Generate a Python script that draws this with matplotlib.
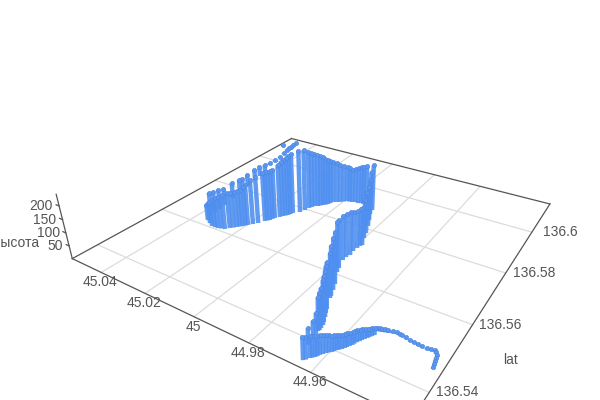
import numpy as np
import matplotlib
matplotlib.use('Agg')
import matplotlib.pyplot as plt
from mpl_toolkits.mplot3d import proj3d

plt.rcParams['font.family'] = ['Liberation Sans', 'DejaVu Sans']

# track points
lat = [136.5452, 136.5468, 136.5483, 136.5493, 136.5490, 136.5491, 136.5493, 136.5497, 136.5499, 136.5493, 136.5489, 136.5486,
       136.5469, 136.5460, 136.5450, 136.5440, 136.5429, 136.5419, 136.5410, 136.5403, 136.5394, 136.5386, 136.5376, 136.5367, 136.5360, 136.5349,
       136.5386, 136.5406, 136.5418, 136.5427, 136.5437, 136.5446, 136.5468, 136.5490, 136.5523, 136.5549, 136.5607, 136.5653, 136.5679, 136.5713, 136.5730, 136.5759, 136.5781, 136.5813, 136.5839, 136.5867, 136.5888,
       136.5898, 136.5904, 136.5901, 136.5898, 136.5895, 136.5881, 136.5871, 136.5854, 136.5843, 136.5831, 136.5827, 136.5810, 136.5795, 136.5780, 136.5766, 136.5751, 136.5740, 136.5732, 136.5721, 136.5706, 136.5696, 136.5679, 136.5668, 136.5658, 136.5647, 136.5636, 136.5623, 136.5613, 136.5607, 136.5607, 136.5623,
       136.5650, 136.5663, 136.5682, 136.5705, 136.5746, 136.5778, 136.5796, 136.5822, 136.5862, 136.5890, 136.5924, 136.5965, 136.5990, 136.6022, 136.6053, 136.6077, 136.6103, 136.6138, 136.6102,
       136.5460, 136.5475, 136.5489, 136.5492, 136.5490, 136.5492, 136.5495, 136.5498, 136.5496, 136.5491, 136.5488,
       136.5474, 136.5464, 136.5455, 136.5445, 136.5434, 136.5424, 136.5415, 136.5406, 136.5398, 136.5390, 136.5381, 136.5371, 136.5363, 136.5353,
       136.5530, 136.5568, 136.5622, 136.5667, 136.5697, 136.5724, 136.5454, 136.5479, 136.5431,
       136.5906, 136.5902, 136.5896, 136.5888, 136.5876, 136.5862, 136.5848, 136.5837, 136.5818,
       136.5653, 136.5642, 136.5629, 136.5610, 136.5607, 136.5615, 136.5745, 136.5758, 136.5714, 136.5701,
       136.6090, 136.6120]
lon = [44.9346, 44.9351, 44.9355, 44.9367, 44.9388, 44.9414, 44.9439, 44.9465, 44.9482, 44.9505, 44.9521, 44.9534,
       44.9536, 44.9543, 44.9551, 44.9558, 44.9563, 44.9571, 44.9578, 44.9587, 44.9594, 44.9605, 44.9615, 44.9621, 44.9630, 44.9641,
       44.9662, 44.9666, 44.9668, 44.9670, 44.9670, 44.9672, 44.9686, 44.9701, 44.9721, 44.9734, 44.9773, 44.9793, 44.9788, 44.9790, 44.9785, 44.9802, 44.9812, 44.9830, 44.9847, 44.9866, 44.9874,
       44.9909, 44.9926, 44.9946, 44.9970, 44.9990, 45.0009, 45.0032, 45.0039, 45.0051, 45.0063, 45.0073, 45.0083, 45.0087, 45.0094, 45.0112, 45.0118, 45.0130, 45.0135, 45.0146, 45.0152, 45.0163, 45.0175, 45.0186, 45.0197, 45.0208, 45.0221, 45.0238, 45.0248, 45.0274, 45.0301, 45.0343,
       45.0364, 45.0362, 45.0362, 45.0367, 45.0379, 45.0383, 45.0390, 45.0396, 45.0406, 45.0413, 45.0425, 45.0445, 45.0445, 45.0453, 45.0464, 45.0473, 45.0478, 45.0486, 45.0523,
       44.9348, 44.9353, 44.9362, 44.9377, 44.9402, 44.9426, 44.9452, 44.9474, 44.9494, 44.9513, 44.9527,
       44.9532, 44.9540, 44.9547, 44.9554, 44.9561, 44.9567, 44.9574, 44.9583, 44.9591, 44.9600, 44.9610, 44.9618, 44.9626, 44.9636,
       44.9724, 44.9745, 44.9780, 44.9793, 44.9792, 44.9788, 44.9677, 44.9694, 44.9669,
       44.9937, 44.9960, 44.9980, 45.0000, 45.0020, 45.0036, 45.0045, 45.0057, 45.0078,
       45.0202, 45.0214, 45.0229, 45.0261, 45.0287, 45.0322, 45.0124, 45.0115, 45.0149, 45.0158,
       45.0475, 45.0482]
height = [7, 7, 7, 7, 7, 7, 7, 7, 7, 11, 11, 11,
          28, 32, 39, 42, 45, 49, 49, 52, 55, 62, 69, 72, 75, 78,
          59, 60, 74, 118, 139, 156, 161, 166, 162, 188, 186, 168, 166, 145, 146, 152, 161, 160, 166, 176, 189,
          171, 159, 151, 139, 147, 160, 172, 188, 204, 215, 219, 234, 249, 252, 244, 235, 223, 214, 198, 197, 197, 188, 180, 164, 148, 143, 143, 139, 123, 100, 64,
          90, 86, 82, 70, 67, 59, 50, 50, 47, 42, 29, 10, 10, 5, 5, 5, 5, 5, 5,
          7, 7, 7, 7, 7, 7, 7, 7, 9, 11, 11,
          25, 30, 35, 40, 44, 47, 49, 50, 54, 59, 65, 70, 73, 78,
          179, 190, 180, 165, 152, 146, 160, 165, 128,
          155, 143, 145, 154, 168, 180, 196, 210, 227,
          158, 146, 143, 131, 111, 82, 229, 239, 198, 197,
          5, 5]

lat_ticks = [136.54, 136.56, 136.58, 136.6]
lon_ticks = [45.04, 45.02, 45, 44.98, 44.96]
z_ticks = [50, 100, 150, 200]

x_lim = (136.533188, 136.616760)
y_lim = (44.932235, 45.054359)
z_lim = (0, 241.746547)

# camera fitted to the frame of the reference
k, cx, cy = 2646.544, 329.942, 199.673

fig = plt.figure(figsize=(6, 4), dpi=100)
ax = fig.add_axes([0, 0, 1, 1], projection='3d')
x0, y0, x1, y1 = ax.viewLim.extents
ax.set_position([(cx + k * x0) / 600, (400 - (cy - k * y0)) / 400, k * (x1 - x0) / 600, k * (y1 - y0) / 400])
ax.set_axis_off()
ax.view_init(28.282316, -147.434849)
ax.set_proj_type('persp', focal_length=0.22112)
ax.set_box_aspect((1, 0.999416, 0.194683))
ax.set_xlim3d(*x_lim, view_margin=0)
ax.set_ylim3d(*y_lim, view_margin=0)
ax.set_zlim3d(*z_lim, view_margin=0)
M = ax.get_proj()

grid = dict(color='#dcdcdc', lw=0.9, clip_on=False)
for v in lat_ticks:
    ax.plot([v, v], y_lim, [0, 0], **grid)
for v in lon_ticks:
    ax.plot(x_lim, [v, v], [0, 0], **grid)

edge = dict(color='#555555', lw=0.9, clip_on=False)
ax.plot(x_lim, [y_lim[1], y_lim[1]], [0, 0], **edge)
ax.plot([x_lim[1], x_lim[1]], y_lim, [0, 0], **edge)
ax.plot(x_lim, [y_lim[0], y_lim[0]], [0, 0], **edge)
ax.plot([x_lim[0], x_lim[0]], y_lim, [0, 0], **edge)
ax.plot([x_lim[0], x_lim[0]], [y_lim[1], y_lim[1]], z_lim, **edge)
for v in z_ticks:
    ax.plot([x_lim[0], x_lim[0]], [y_lim[1], y_lim[1] + 0.0015], [v, v], **edge)

# far bars first, the lines are not depth sorted
depth = (np.array(lat) - x_lim[0]) / (x_lim[1] - x_lim[0]) + (np.array(lon) - y_lim[0]) / (y_lim[1] - y_lim[0])
for i in np.argsort(-depth):
    ax.plot([lat[i], lat[i]], [lon[i], lon[i]], [0, height[i]], color='#4f8ff0', alpha=0.9, lw=3.2,
            solid_capstyle='butt', clip_on=False)
    ax.plot([lat[i]], [lon[i]], [height[i]], 'o', ms=3.1, mfc='#5b96ee', mec='#4a84e4', mew=0.4, clip_on=False)


def tick_text(x, y, z, s, dx, dy, ha='center'):
    sx, sy, _ = proj3d.proj_transform(x, y, z, M)
    ax.annotate(s, (sx, sy), xytext=(dx, dy), textcoords='offset pixels', ha=ha, va='center',
                fontsize=10, color='#555555', annotation_clip=False)


for v in lat_ticks:
    tick_text(v, y_lim[0], 0, str(v), 28, 0)
for v in lon_ticks:
    tick_text(x_lim[0], v, 0, str(v), -1, -10)
for v in z_ticks:
    tick_text(x_lim[0], y_lim[1], v, str(v), -6, 0, ha='right')

fig.text(39 / 600, 1 - 243 / 400, 'высота', ha='right', va='center', fontsize=10, color='#555555')
fig.text(511 / 600, 1 - 360 / 400, 'lat', ha='center', va='center', fontsize=10, color='#555555')

plt.savefig('out.png', dpi=100)
